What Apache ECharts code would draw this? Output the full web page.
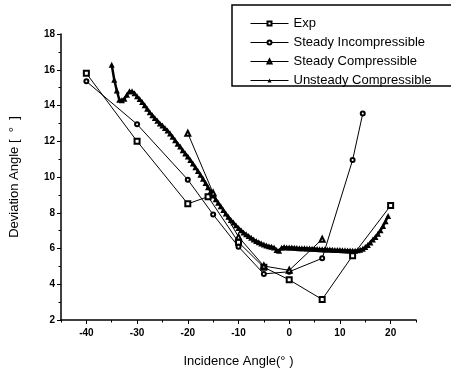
<!DOCTYPE html>
<html><head><meta charset="utf-8">
<script src="https://cdn.jsdelivr.net/npm/echarts@6/dist/echarts.min.js"></script>
<style>html,body{margin:0;padding:0;background:#fff}#c{width:451px;height:372px}</style>
</head><body><div id="c"></div>
<script>
var xMajorTicks = [-40, -30, -20, -10, 0, 10, 20];
var xMinorTicks = [-45, -35, -25, -15, -5, 5, 15, 25];

var expX = [-40, -30, -20, -16, -10, -5, 0, 6.5, 12.5, 20];
var expY = [15.8, 12.0, 8.5, 8.9, 6.35, 4.95, 4.25, 3.15, 5.6, 8.4];

var siX = [-40, -30, -20, -15, -10, -5, 0, 6.5, 12.5, 14.5];
var siY = [15.35, 12.95, 9.85, 7.9, 6.1, 4.58, 4.7, 5.45, 10.95, 13.55];

var scX = [-20, -15, -10, -5, 0, 6.5];
var scY = [12.45, 9.1, 6.65, 5.02, 4.78, 6.52];

var ucX = [-35, -34.5, -34, -33.5, -33, -32.5, -32, -31.5, -31, -30.5, -30, -29.5, -29, -28.5, -28, -27.5, -27, -26.5, -26, -25.5,
  -25, -24.5, -24, -23.5, -23, -22.5, -22, -21.5, -21, -20.5, -20, -19.5, -19, -18.5, -18, -17.5, -17, -16.5, -16, -15.5,
  -15, -14.5, -14, -13.5, -13, -12.5, -12, -11.5, -11, -10.5, -10, -9.5, -9, -8.5, -8, -7.5, -7, -6.5, -6, -5.5,
  -5, -4.5, -4, -3.5, -3, -2.5, -2, -1.5, -1, -0.5, 0, 0.5, 1, 1.5, 2, 2.5, 3, 3.5, 4, 4.5,
  5, 5.5, 6, 6.5, 7, 7.5, 8, 8.5, 9, 9.5, 10, 10.5, 11, 11.5, 12, 12.5, 13, 13.5, 14, 14.5,
  15, 15.5, 16, 16.5, 17, 17.5, 18, 18.5, 19, 19.5];
var ucY = [16.28, 15.44, 14.84, 14.32, 14.3, 14.38, 14.6, 14.8, 14.8, 14.68, 14.52, 14.36, 14.2, 14.02, 13.82, 13.62, 13.46, 13.3, 13.15, 13.0,
  12.88, 12.74, 12.6, 12.44, 12.25, 12.05, 11.86, 11.7, 11.5, 11.32, 11.14, 10.95, 10.75, 10.55, 10.34, 10.12, 9.9, 9.66, 9.42, 9.2,
  8.96, 8.76, 8.56, 8.36, 8.16, 7.96, 7.77, 7.6, 7.45, 7.3, 7.15, 7.02, 6.9, 6.8, 6.7, 6.6, 6.5, 6.42, 6.35, 6.28,
  6.22, 6.17, 6.12, 6.1, 6.06, 5.92, 5.88, 6.04, 6.08, 6.06, 6.06, 6.05, 6.04, 6.03, 6.02, 6.02, 6.01, 6.0, 6.0, 5.99,
  5.98, 5.97, 5.96, 5.96, 5.95, 5.95, 5.94, 5.93, 5.92, 5.92, 5.91, 5.9, 5.9, 5.89, 5.89, 5.88, 5.88, 5.9, 5.93, 5.98,
  6.08, 6.2, 6.34, 6.5, 6.65, 6.82, 7.02, 7.26, 7.52, 7.82];

function pairs(xs, ys) { return xs.map(function (x, i) { return [x, ys[i]]; }); }

var chart = echarts.init(document.getElementById('c'), null, { renderer: 'canvas' });
var font = "'Liberation Sans', Arial, sans-serif";
var tickFont = "'Liberation Sans Narrow', 'Liberation Sans', Arial, sans-serif";
var axisLine = { show: true, onZero: false, lineStyle: { color: '#000', width: 1.5 } };

chart.setOption({
  animation: false,
  backgroundColor: '#fff',
  grid: { left: 61, right: 35, top: 34, bottom: 52, outerBoundsMode: 'none', containLabel: false },
  graphic: [{
    type: 'rect', shape: { x: 232, y: 5, width: 240, height: 81 },
    style: { fill: 'none', stroke: '#000', lineWidth: 1.5 }, z: 100
  }],
  legend: {
    orient: 'vertical', left: 245, top: 12, itemWidth: 38, itemHeight: 5, itemGap: 6,
    lineStyle: { width: 1 },
    textStyle: { fontFamily: font, fontSize: 13, color: '#000' },
    data: ['Exp', 'Steady Incompressible', 'Steady Compressible', 'Unsteady Compressible']
  },
  xAxis: [{
    type: 'value', min: -45, max: 25,
    name: 'Incidence Angle(\u00b0 )', nameLocation: 'middle', nameGap: 35,
    nameTextStyle: { fontFamily: font, fontSize: 13, color: '#000' },
    axisLine: axisLine,
    axisTick: { show: true, length: 4, lineStyle: { color: '#000', width: 1 }, customValues: xMajorTicks },
    axisLabel: { fontFamily: tickFont, fontWeight: 'bold', fontSize: 10, color: '#000', margin: 8, customValues: xMajorTicks },
    splitLine: { show: false }
  }, {
    type: 'value', min: -45, max: 25, position: 'bottom',
    axisLine: { show: false, onZero: false },
    axisTick: { show: true, length: 2.5, lineStyle: { color: '#000', width: 1 }, customValues: xMinorTicks },
    axisLabel: { show: false, customValues: xMinorTicks },
    splitLine: { show: false }
  }],
  yAxis: {
    type: 'value', min: 2, max: 18, interval: 2,
    name: 'Deviation Angle [  \u00b0  ]', nameLocation: 'middle', nameGap: 40,
    nameTextStyle: { fontFamily: font, fontSize: 13, color: '#000' },
    axisLine: axisLine,
    axisTick: { show: true, length: 4, lineStyle: { color: '#000', width: 1 } },
    minorTick: { show: true, splitNumber: 2, length: 2.5, lineStyle: { color: '#000', width: 1 } },
    axisLabel: { fontFamily: tickFont, fontWeight: 'bold', fontSize: 10, color: '#000', margin: 6 },
    splitLine: { show: false }
  },
  series: [{
    name: 'Exp', type: 'line', data: pairs(expX, expY),
    symbol: 'emptyRect', symbolSize: 5, lineStyle: { color: '#000', width: 1 },
    itemStyle: { color: '#000', borderColor: '#000', borderWidth: 1 }, z: 5
  }, {
    name: 'Steady Incompressible', type: 'line', data: pairs(siX, siY),
    symbol: 'emptyCircle', symbolSize: 4, lineStyle: { color: '#000', width: 1 },
    itemStyle: { color: '#000', borderColor: '#000', borderWidth: 1 }, z: 5
  }, {
    name: 'Steady Compressible', type: 'line', data: pairs(scX, scY),
    symbol: 'emptyTriangle', symbolSize: 5, lineStyle: { color: '#000', width: 1 },
    itemStyle: { color: '#000', borderColor: '#000', borderWidth: 1 }, z: 5
  }, {
    name: 'Unsteady Compressible', type: 'line', data: pairs(ucX, ucY),
    symbol: 'triangle', symbolSize: 6, showAllSymbol: true, lineStyle: { color: '#000', width: 2.5 },
    itemStyle: { color: '#000' }, z: 4
  }]
});
</script></body></html>
